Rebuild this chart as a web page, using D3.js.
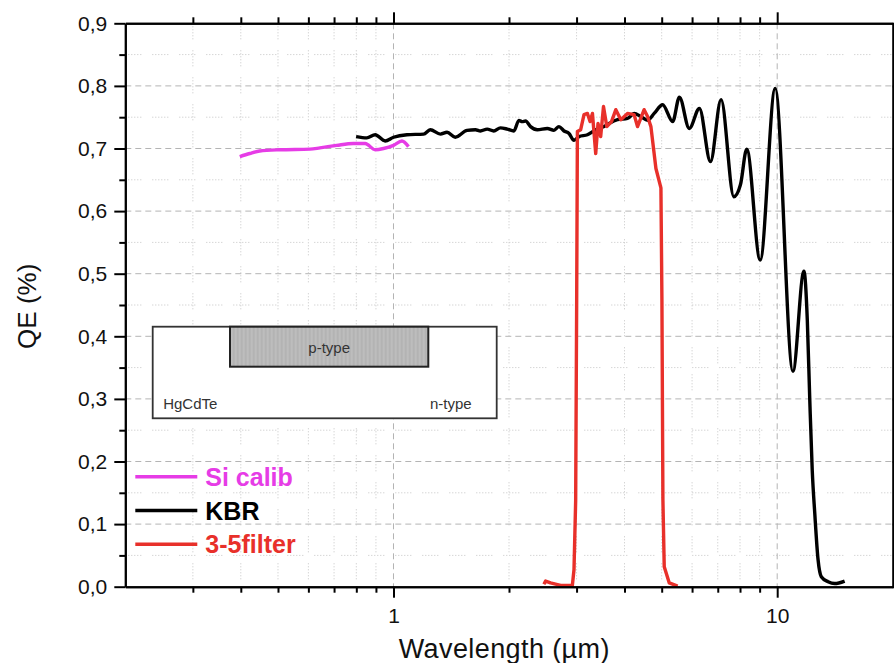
<!DOCTYPE html>
<meta charset="utf-8">
<style>
body { margin: 0; background: #fff; }
text { font-family: "Liberation Sans", Arial, sans-serif; }
</style>
<script src="https://d3js.org/d3.v7.min.js"></script>
<div id="chart"></div>
<script>
// wavelength (µm) and QE
var siWave = [0.3975, 0.422, 0.448, 0.506, 0.606, 0.643, 0.711, 0.786, 0.844, 0.896, 0.942, 1.0, 1.052, 1.094];
var siQE   = [0.687, 0.692, 0.696, 0.698, 0.699, 0.701, 0.705, 0.708, 0.708, 0.698, 0.700, 0.705, 0.712, 0.703];

var kbrWave = [0.799, 0.852, 0.896, 0.951, 1.0, 1.084, 1.198, 1.247, 1.325, 1.379, 1.449, 1.555, 1.635, 1.685,
  1.754, 1.825, 1.900, 1.979, 2.059, 2.122, 2.165, 2.209, 2.276, 2.370, 2.517, 2.619, 2.699, 2.782, 2.867,
  2.954, 3.043, 3.202, 3.365, 3.538, 3.646, 3.835, 4.073, 4.238, 4.413, 4.594, 4.779, 5.028, 5.341, 5.56,
  5.90, 6.27, 6.70, 7.14, 7.71, 8.02, 8.33, 9.03, 9.88, 10.99, 11.74, 11.98, 12.16, 12.34, 12.53, 12.78,
  13.03, 13.57, 14.12, 14.99];
var kbrQE = [0.719, 0.717, 0.722, 0.712, 0.718, 0.722, 0.723, 0.730, 0.723, 0.726, 0.718, 0.729, 0.730, 0.728,
  0.731, 0.728, 0.733, 0.731, 0.728, 0.745, 0.743, 0.744, 0.735, 0.730, 0.732, 0.729, 0.735, 0.728, 0.724,
  0.713, 0.719, 0.722, 0.730, 0.735, 0.740, 0.746, 0.748, 0.756, 0.751, 0.745, 0.756, 0.770, 0.743, 0.782,
  0.732, 0.764, 0.679, 0.778, 0.623, 0.642, 0.699, 0.522, 0.796, 0.344, 0.504, 0.426, 0.298, 0.186, 0.117, 0.043,
  0.016, 0.008, 0.005, 0.009];

var filtWave = [2.466, 2.491, 2.566, 2.726, 2.925, 2.954, 2.984, 3.002, 3.015, 3.075, 3.137, 3.202, 3.253, 3.300,
  3.365, 3.412, 3.467, 3.526, 3.597, 3.700, 3.797, 3.913, 4.073, 4.238, 4.325, 4.500, 4.594, 4.687, 4.830,
  4.977, 5.007, 5.037, 5.077, 5.233, 5.503];
var filtQE = [0.004, 0.009, 0.006, 0.002, 0.002, 0.027, 0.138, 0.458, 0.727, 0.730, 0.754, 0.756, 0.743, 0.756,
  0.692, 0.740, 0.719, 0.767, 0.735, 0.743, 0.762, 0.746, 0.756, 0.754, 0.735, 0.762, 0.751, 0.735, 0.668,
  0.637, 0.458, 0.138, 0.032, 0.006, 0.001];

var seriesNames = ["Si calib", "KBR", "3-5filter"];
var seriesColors = ["#e63ce6", "#000000", "#e8302a"];

var yTicks = [0, 0.1, 0.2, 0.3, 0.4, 0.5, 0.6, 0.7, 0.8, 0.9];
var yMinor = [0.05, 0.15, 0.25, 0.35, 0.45, 0.55, 0.65, 0.75, 0.85];
var xMajor = [1, 10];
var xMinor = [0.3, 0.4, 0.5, 0.6, 0.7, 0.8, 0.9, 2, 3, 4, 5, 6, 7, 8, 9];

var margin = {top: 23.3, right: 1.3, bottom: 76.3, left: 125.3},
    width = 894 - margin.left - margin.right,
    height = 663 - margin.top - margin.bottom;

var svg = d3.select("#chart")
  .append("svg")
    .attr("width", 894)
    .attr("height", 663)
  .append("g")
    .attr("transform", "translate(" + margin.left + "," + margin.top + ")");

var x = d3.scaleLog().domain([0.2, 20]).range([0, width]);
var y = d3.scaleLinear().domain([0, 0.9]).range([height, 0]);

var comma = function(d) { return d3.format(".1f")(d).replace(".", ","); };

// grid
var dots = "1,2,1,2,1,2,1,2,1,2,1,11";
svg.selectAll(".gy").data(yTicks.slice(1, -1)).enter().append("line")
  .attr("x1", 0).attr("x2", width)
  .attr("y1", function(d) { return y(d); }).attr("y2", function(d) { return y(d); })
  .attr("stroke", "#b4b4b4").attr("stroke-dasharray", "6,4");
svg.selectAll(".gym").data(yMinor).enter().append("line")
  .attr("x1", 0).attr("x2", width)
  .attr("y1", function(d) { return y(d); }).attr("y2", function(d) { return y(d); })
  .attr("stroke", "#c4c4c4").attr("stroke-dasharray", dots);
svg.selectAll(".gx").data(xMajor).enter().append("line")
  .attr("y1", 0).attr("y2", height)
  .attr("x1", function(d) { return x(d); }).attr("x2", function(d) { return x(d); })
  .attr("stroke", "#b4b4b4").attr("stroke-dasharray", "6,4");
svg.selectAll(".gxm").data(xMinor).enter().append("line")
  .attr("y1", 0).attr("y2", height)
  .attr("x1", function(d) { return x(d); }).attr("x2", function(d) { return x(d); })
  .attr("stroke", "#c4c4c4").attr("stroke-dasharray", dots);

// inset: device cross-section
var defs = svg.append("defs");
var pat = defs.append("pattern").attr("id", "hatch")
  .attr("width", 4).attr("height", 4).attr("patternUnits", "userSpaceOnUse");
pat.append("rect").attr("width", 4).attr("height", 4).attr("fill", "#bdbdbd");
pat.append("line").attr("x1", 1).attr("x2", 1).attr("y1", 0).attr("y2", 4)
  .attr("stroke", "#aaaaaa").attr("stroke-width", 1);

var inset = svg.append("g").attr("transform", "translate(27.4,303.4)");
inset.append("rect").attr("width", 344).attr("height", 91.6)
  .attr("fill", "#fff").attr("stroke", "#333").attr("stroke-width", 1.8);
inset.append("rect").attr("x", 77.3).attr("width", 198.3).attr("height", 40)
  .attr("fill", "url(#hatch)").attr("stroke", "#222").attr("stroke-width", 2);
inset.append("text").attr("x", 176.5).attr("y", 26).attr("text-anchor", "middle")
  .style("font-size", "15px").attr("fill", "#333").text("p-type");
inset.append("text").attr("x", 10.5).attr("y", 82).style("font-size", "15px")
  .attr("fill", "#333").text("HgCdTe");
inset.append("text").attr("x", 319).attr("y", 82).attr("text-anchor", "end")
  .style("font-size", "15px").attr("fill", "#333").text("n-type");

// lines
var mk = function(wave, qe) { return wave.map(function(w, i) { return [w, qe[i]]; }); };
var smooth = d3.line().x(function(d) { return x(d[0]); }).y(function(d) { return y(d[1]); })
  .curve(d3.curveMonotoneX);
var sharp = d3.line().x(function(d) { return x(d[0]); }).y(function(d) { return y(d[1]); });

svg.append("path").datum(mk(siWave, siQE)).attr("d", smooth)
  .attr("fill", "none").attr("stroke", seriesColors[0]).attr("stroke-width", 3.4);
svg.append("path").datum(mk(kbrWave, kbrQE)).attr("d", smooth)
  .attr("fill", "none").attr("stroke", seriesColors[1]).attr("stroke-width", 3.4)
  .attr("stroke-linejoin", "round");
svg.append("path").datum(mk(filtWave, filtQE)).attr("d", sharp)
  .attr("fill", "none").attr("stroke", seriesColors[2]).attr("stroke-width", 3.4)
  .attr("stroke-linejoin", "round");

// axes
function styleAxis(g) {
  g.select(".domain").attr("stroke", "#000").attr("stroke-width", 2);
  g.selectAll(".tick line").attr("stroke", "#000").attr("stroke-width", 2);
  g.selectAll(".tick text").style("font-size", "21px").attr("fill", "#111");
}
var empty = function() { return ""; };

svg.append("g").attr("transform", "translate(0," + height + ")")
  .call(d3.axisBottom(x).tickValues(xMinor).tickSize(6).tickSizeOuter(0).tickFormat(empty)).call(styleAxis);
svg.append("g").attr("transform", "translate(0," + height + ")")
  .call(d3.axisBottom(x).tickValues(xMajor).tickSize(11).tickSizeOuter(0).tickPadding(10).tickFormat(d3.format("d")))
  .call(styleAxis);
svg.append("g")
  .call(d3.axisTop(x).tickValues(xMinor).tickSize(6).tickSizeOuter(0).tickFormat(empty)).call(styleAxis);
svg.append("g")
  .call(d3.axisTop(x).tickValues(xMajor).tickSize(11).tickSizeOuter(0).tickFormat(empty)).call(styleAxis);

svg.append("g")
  .call(d3.axisLeft(y).tickValues(yMinor).tickSize(6).tickSizeOuter(0).tickFormat(empty)).call(styleAxis);
svg.append("g")
  .call(d3.axisLeft(y).tickValues(yTicks).tickSize(11).tickSizeOuter(0).tickPadding(7).tickFormat(comma))
  .call(styleAxis);
svg.append("g").attr("transform", "translate(" + width + ",0)")
  .call(d3.axisRight(y).tickValues(yTicks).tickSize(11).tickSizeOuter(0).tickFormat(empty)).call(styleAxis);

// axis titles
svg.append("text")
  .attr("x", 379).attr("y", height + 71.5)
  .attr("text-anchor", "middle").style("font-size", "27px").style("letter-spacing", "0.4px")
  .attr("fill", "#111")
  .text("Wavelength (µm)");
svg.append("text")
  .attr("transform", "rotate(-90)")
  .attr("x", -283).attr("y", -89)
  .attr("text-anchor", "middle").style("font-size", "26px").attr("fill", "#111")
  .text("QE (%)");

// legend
var legend = svg.selectAll(".legend").data(seriesNames).enter().append("g")
  .attr("transform", function(d, i) { return "translate(10," + (453.4 + i * 33.8) + ")"; });
legend.append("line").attr("x1", 0).attr("x2", 62)
  .attr("stroke", function(d, i) { return seriesColors[i]; }).attr("stroke-width", 3.4);
legend.append("text").attr("x", 70).attr("dy", "0.36em")
  .style("font-size", "25px").style("font-weight", "bold")
  .attr("fill", function(d, i) { return seriesColors[i]; })
  .text(function(d) { return d; });
</script>
